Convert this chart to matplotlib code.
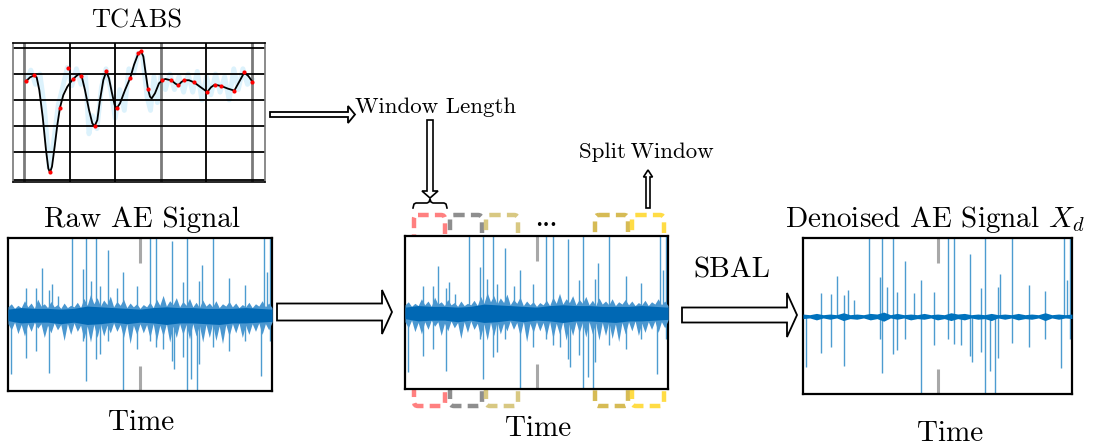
import matplotlib
matplotlib.use("Agg")
import matplotlib.pyplot as plt
from matplotlib.patches import Polygon, FancyBboxPatch

plt.rcParams['mathtext.fontset'] = 'cm'
plt.rcParams['axes.formatter.use_mathtext'] = True
FONT = ['cmr10', 'DejaVu Serif']

W, H = 1094, 447

# ---------------- TCABS data (arbitrary units) ----------------
curve_x = [0.88, 2.63, 4.53, 5.56, 6.72, 8.19, 9.65, 10.67, 11.40, 12.28, 13.45, 14.62, 15.79, 17.25,
           19.01, 20.91, 22.66, 24.12, 25.29, 26.75, 28.51, 29.97, 31.00, 32.16, 33.33, 34.80, 36.11,
           37.28, 38.60, 39.77, 40.64, 42.11, 44.30, 46.64, 48.25, 50.15, 51.32, 52.34, 53.36, 54.39,
           55.26, 55.99, 57.46, 59.21, 60.67, 61.99, 63.30, 64.62, 66.23, 67.69, 69.01, 70.32, 72.37,
           74.56, 77.19, 80.41, 82.02, 83.63, 86.40, 89.33, 92.25, 94.44, 96.64, 98.39, 100.15]
curve_y = [0.72, 0.87, 0.95, 0.87, 0.38, -0.64, -1.92, -2.63, -2.78, -2.56, -1.79, -0.96, -0.29, 0.19,
           0.51, 0.74, 0.90, 1.00, 0.92, 0.38, -0.38, -0.90, -1.00, -0.77, 0.00, 0.77, 1.10,
           0.83, 0.26, -0.19, -0.32, -0.13, 0.38, 0.86, 1.35, 1.79, 1.87, 1.67, 1.03, 0.41,
           0.13, 0.06, 0.26, 0.64, 0.76, 0.81, 0.78, 0.76, 0.64, 0.56, 0.69, 0.76, 0.76,
           0.68, 0.51, 0.31, 0.49, 0.59, 0.54, 0.44, 0.36, 0.71, 1.06, 0.92, 0.71]
knot_x = [0.88, 4.53, 11.40, 15.79, 19.15, 21.64, 25.0, 31.0, 36.11, 40.64, 46.64, 50.15, 51.32,
          54.39, 60.67, 64.62, 67.69, 70.32, 74.56, 80.41, 83.63, 86.40, 92.25, 96.64, 100.15]
knot_y = [0.72, 0.95, -2.78, -0.29, 1.22, 0.81, 0.92, -1.0, 1.10, -0.32, 0.86, 1.79, 1.87,
          0.41, 0.76, 0.76, 0.56, 0.76, 0.68, 0.31, 0.59, 0.54, 0.36, 1.06, 0.71]
raw_x = [1, 3, 5, 7, 9, 11, 13, 15, 17, 19, 21, 23, 25, 27, 28.5, 30, 32, 34, 36, 38, 40, 42, 44,
         46, 48, 50, 52, 54, 55.5, 57, 58.5, 60, 62, 64, 66, 68, 70, 72, 74, 76, 78, 80, 82, 84,
         86, 88, 90, 92, 94, 96, 98, 100]
raw_y = [0.75, 1.15, 0.6, 1.0, -0.3, -2.6, -1.6, -0.2, 0.5, 1.25, 0.55, 1.2, 0.6, 0.9, -1.3, -0.6,
         -1.1, 0.5, 1.2, 0.4, -0.7, 0.4, -0.4, 1.2, 1.0, 1.8, 1.7, 0.1, -0.4, 0.9, -0.1, 0.9, 0.4,
         1.0, 0.4, 0.9, 0.3, 1.0, 0.3, 1.1, 0.0, 0.9, 0.2, 1.0, 0.3, 0.9, 0.0, 1.2, 0.4, 1.2, 0.6, 0.8]

# ---------------- AE signal data (normalised time 0..1) ----------------
spike_x = [0.013, 0.067, 0.105, 0.127, 0.154, 0.167, 0.190, 0.244, 0.285, 0.295, 0.313, 0.334, 0.348,
           0.380, 0.414, 0.437, 0.487, 0.538, 0.561, 0.589, 0.620, 0.627, 0.662, 0.678, 0.694, 0.715,
           0.724, 0.734, 0.776, 0.839, 0.899, 0.959, 0.971, 0.981, 0.994]
spike_up = [0, 0.35, 0.34, 0.61, 0.32, 0.40, 0.24, 1.2, 0.60, 1.2, 0.44, 1.2, 0.37, 0.84, 0.35, 0.56,
            0.37, 1.2, 1.2, 0, 0.96, 0, 0.43, 1.2, 0, 0, 0.44, 0.65, 1.2, 0.48, 0.39, 0, 1.2, 0.56, 1.2]
spike_dn = [0.78, 0.57, 0.48, 0, 0.77, 0, 0, 0, 0.35, 0.87, 0, 0.58, 0.52, 0.35, 0, 1.2, 0.45, 0.35,
            0.43, 0.45, 0.61, 0.71, 0.56, 1.2, 0.84, 1.2, 0.65, 0, 0.42, 0.48, 0.35, 0.80, 0, 0, 0.35]

env_x = [i / 80 for i in range(81)]
env_hi = [0.10, 0.14, 0.08, 0.12, 0.09, 0.18, 0.10, 0.15, 0.08, 0.20, 0.11, 0.14, 0.09, 0.17, 0.10,
          0.13, 0.08, 0.15, 0.09, 0.12, 0.10, 0.16, 0.09, 0.21, 0.12, 0.26, 0.14, 0.22, 0.11, 0.19,
          0.13, 0.24, 0.10, 0.17, 0.12, 0.20, 0.09, 0.15, 0.10, 0.14, 0.08, 0.13, 0.10, 0.16, 0.09,
          0.20, 0.12, 0.25, 0.11, 0.18, 0.13, 0.22, 0.10, 0.17, 0.12, 0.21, 0.10, 0.16, 0.09, 0.19,
          0.11, 0.15, 0.10, 0.18, 0.09, 0.14, 0.11, 0.17, 0.10, 0.15, 0.09, 0.13, 0.10, 0.16, 0.09,
          0.14, 0.11, 0.18, 0.10, 0.15, 0.09]
env_lo = [0.12, 0.20, 0.10, 0.25, 0.13, 0.28, 0.12, 0.22, 0.10, 0.18, 0.12, 0.30, 0.14, 0.24, 0.11,
          0.20, 0.13, 0.34, 0.12, 0.26, 0.11, 0.22, 0.14, 0.32, 0.15, 0.36, 0.13, 0.30, 0.12, 0.28,
          0.14, 0.24, 0.11, 0.22, 0.13, 0.30, 0.12, 0.38, 0.14, 0.26, 0.12, 0.24, 0.13, 0.30, 0.12,
          0.34, 0.14, 0.28, 0.12, 0.36, 0.15, 0.30, 0.12, 0.26, 0.13, 0.32, 0.12, 0.28, 0.14, 0.36,
          0.13, 0.30, 0.12, 0.34, 0.15, 0.38, 0.13, 0.28, 0.12, 0.24, 0.11, 0.30, 0.14, 0.26, 0.12,
          0.22, 0.11, 0.26, 0.12, 0.20, 0.10]
core_x = [i / 20 for i in range(21)]
core_hi = [0.07, 0.09, 0.08, 0.08, 0.07, 0.08, 0.11, 0.10, 0.09, 0.08, 0.07, 0.09, 0.10, 0.09, 0.09,
           0.08, 0.08, 0.08, 0.09, 0.08, 0.07]
core_lo = [0.08, 0.11, 0.10, 0.10, 0.12, 0.10, 0.13, 0.12, 0.10, 0.12, 0.10, 0.11, 0.13, 0.11, 0.11,
           0.12, 0.13, 0.11, 0.11, 0.10, 0.09]
den_x = [i / 40 for i in range(41)]
den_hi = [0.03, 0.02, 0.04, 0.02, 0.03, 0.02, 0.05, 0.02, 0.03, 0.02, 0.04, 0.03, 0.06, 0.02, 0.04,
          0.02, 0.03, 0.02, 0.04, 0.02, 0.03, 0.02, 0.05, 0.03, 0.04, 0.02, 0.03, 0.02, 0.04, 0.02,
          0.03, 0.02, 0.04, 0.02, 0.03, 0.02, 0.05, 0.02, 0.03, 0.02, 0.03]
den_lo = [0.04, 0.03, 0.06, 0.03, 0.05, 0.03, 0.07, 0.04, 0.05, 0.03, 0.06, 0.04, 0.08, 0.03, 0.05,
          0.03, 0.06, 0.04, 0.05, 0.03, 0.06, 0.04, 0.07, 0.04, 0.06, 0.03, 0.05, 0.04, 0.07, 0.03,
          0.05, 0.03, 0.06, 0.04, 0.05, 0.03, 0.07, 0.03, 0.05, 0.03, 0.04]

BLUE = '#0072BD'

fig = plt.figure(figsize=(W / 100, H / 100), dpi=100)
fig.patch.set_facecolor('white')

# overlay axes in pixel coordinates
ov = fig.add_axes([0, 0, 1, 1], zorder=0)
ov.set_xlim(0, W)
ov.set_ylim(H, 0)
ov.axis('off')


def px_axes(l, t, r, b, z=2):
    return fig.add_axes([l / W, (H - b) / H, (r - l) / W, (b - t) / H], zorder=z)


# ---------------- TCABS panel ----------------
tc = px_axes(13, 43, 265, 182, z=2)
tc.set_xlim(-4.82, 105.7)
tc.set_ylim(-3.15, 2.19)
tc.set_xticks([]); tc.set_yticks([])
for s in ['top', 'bottom']:
    tc.spines[s].set_linewidth(1.2)
for s in ['left', 'right']:
    tc.spines[s].set_linewidth(1.2)
    tc.spines[s].set_color('#777777')
for gx, c, lw in [(0, '#7a7a7a', 2.0), (20, 'black', 1.3), (40, 'black', 1.3),
                  (60, '#7a7a7a', 2.0), (80, 'black', 1.3), (100, '#7a7a7a', 2.0)]:
    tc.axvline(gx, color=c, lw=lw, zorder=1)
for gy in [2, 1, 0, -1, -2, -3.08]:
    tc.axhline(gy, color='black', lw=1.3, zorder=1)
tc.plot(raw_x, raw_y, color='#dcf2fc', lw=3.5, zorder=0.5, solid_joinstyle='round')
tc.plot(curve_x, curve_y, color='black', lw=1.3, zorder=3)
tc.scatter(knot_x, knot_y, s=9, color='red', zorder=4, linewidths=0)


# ---------------- signal panels ----------------
def signal_panel(l, t, r, b, ylim, denoised=False):
    ax = px_axes(l, t, r, b, z=3)
    ax.set_facecolor('white')
    ax.set_xlim(0, 1)
    ax.set_ylim(-ylim, ylim)
    for s in ax.spines.values():
        s.set_linewidth(1.6)
    ax.set_xticks([0.5])
    ax.set_yticks([])
    ax.tick_params(axis='x', direction='in', length=18, width=2.2, color='#a8a8a8',
                   top=True, labelbottom=False)
    ax.vlines(spike_x, [-d for d in spike_dn], spike_up, color=BLUE, lw=1.0, alpha=0.7, zorder=2)
    if denoised:
        ax.fill_between(den_x, den_hi, [-v for v in den_lo], color=BLUE, lw=0, zorder=3)
    else:
        ax.fill_between(env_x, env_hi, [-v for v in env_lo], color='#4a97d0', lw=0, zorder=3)
        ax.fill_between(core_x, core_hi, [-v for v in core_lo], color='#0068b4', lw=0, zorder=4)
    return ax


signal_panel(8, 238, 272, 391, 1.0)
signal_panel(405, 236, 668, 389, 1.0)
signal_panel(803, 238, 1072, 394, 1.2, denoised=True)

# ---------------- dashed windows ----------------
windows = [(412, 447, 213, 408, '#ff8080'), (448, 484, 213, 408, '#8e8e8e'),
           (484, 520, 213, 408, '#d8c882'), (593, 630, 213, 408, '#d6bb55'),
           (630, 666, 213, 408, '#ffdc45')]
for x0, x1, y0, y1, c in windows:
    p = FancyBboxPatch((x0 + 2, y0 + 2), x1 - x0 - 4, y1 - y0 - 4,
                       boxstyle='round,pad=0,rounding_size=4', fill=False,
                       edgecolor=c, lw=3.2, linestyle=(0, (2.4, 1.4)), zorder=1)
    ov.add_patch(p)

# brace
ov.plot([413, 414, 416, 427, 429, 430, 431, 433, 444, 446, 447],
        [208, 204, 203, 203, 202, 199, 202, 203, 203, 204, 208], color='black', lw=1.2)


# ---------------- hollow arrows ----------------
def harrow(x0, x1, c, h, Hh, L):
    pts = [(x0, c - h), (x1 - L, c - h), (x1 - L, c - Hh), (x1, c), (x1 - L, c + Hh),
           (x1 - L, c + h), (x0, c + h)]
    ov.add_patch(Polygon(pts, closed=True, facecolor='white', edgecolor='black', lw=1.3,
                         joinstyle='miter', zorder=2))


def varrow(y0, y1, c, h, Hh, L):
    s = 1 if y1 > y0 else -1
    pts = [(c - h, y0), (c - h, y1 - s * L), (c - Hh, y1 - s * L), (c, y1),
           (c + Hh, y1 - s * L), (c + h, y1 - s * L), (c + h, y0)]
    ov.add_patch(Polygon(pts, closed=True, facecolor='white', edgecolor='black', lw=1.2,
                         joinstyle='miter', zorder=2))


harrow(277, 392, 312, 8.5, 22, 10)
harrow(682, 797, 315, 7.5, 22, 10)
harrow(270, 355, 114.5, 2.5, 8.5, 7)
varrow(120, 198, 430, 3, 8, 7)
varrow(208, 170, 648, 2, 4.5, 7)

# ---------------- texts ----------------
def txt(x, y, s, size, **kw):
    ov.text(x, y, s, fontsize=size, family=FONT, ha='center', va='baseline', **kw)


txt(137, 28, 'TCABS', 19)
txt(142, 227, 'Raw AE Signal', 21)
txt(141, 430, 'Time', 21)
txt(436, 113, 'Window Length', 16.5)
txt(646, 158, 'Split\u2009Window', 16.5)
txt(538, 436, 'Time', 21)
txt(732, 277, 'SBAL', 21)
txt(935, 227, r'Denoised AE Signal $X_d$', 21)
txt(950, 441, 'Time', 21)
ov.text(546, 225, '\u2022\u2022\u2022', fontsize=9, family='DejaVu Sans', ha='center',
        va='center')

fig.savefig('out.png', dpi=100, facecolor='white')
